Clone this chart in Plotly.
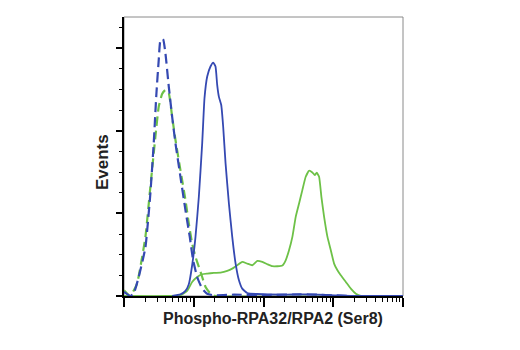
import plotly.graph_objects as go
import math

# Intensity in log decades (0..4), events in arbitrary units
blue_dash_x = [0, 0.09, 0.139, 0.211, 0.307, 0.378, 0.426, 0.465, 0.498, 0.522, 0.56, 0.594, 0.642, 0.69, 0.738, 0.809, 0.881, 0.943, 0.991, 1.049, 1.121, 1.193, 1.288, 1.576, 2.055, 2.534, 2.773, 3.012, 3.252, 3.97]
blue_dash_y = [0.05, 0, 0.03, 0.23, 0.586, 1.24, 1.846, 2.453, 2.857, 3.09, 3.107, 2.937, 2.533, 2.17, 1.846, 1.442, 1.038, 0.715, 0.432, 0.23, 0.089, 0.028, 0.008, 0.016, 0.012, 0.02, 0.016, 0.008, 0, 0]

green_dash_x = [0, 0.09, 0.187, 0.307, 0.378, 0.45, 0.498, 0.546, 0.594, 0.642, 0.69, 0.738, 0.809, 0.881, 0.929, 0.977, 1.025, 1.073, 1.121, 1.169, 1.24, 1.312, 3.97]
green_dash_y = [0.07, 0, 0.15, 0.715, 1.321, 1.927, 2.291, 2.444, 2.493, 2.453, 2.17, 1.887, 1.523, 1.16, 0.877, 0.634, 0.473, 0.352, 0.23, 0.109, 0.028, 0, 0]

blue_solid_x = [0.69, 0.809, 0.881, 0.929, 0.977, 1.025, 1.073, 1.121, 1.154, 1.193, 1.24, 1.279, 1.312, 1.336, 1.36, 1.394, 1.422, 1.456, 1.504, 1.552, 1.6, 1.648, 1.695, 1.767, 1.911, 2.294, 2.534, 2.773, 3.012, 3.252, 4.0]
blue_solid_y = [0, 0.02, 0.061, 0.141, 0.372, 0.715, 1.2, 1.846, 2.392, 2.655, 2.776, 2.824, 2.776, 2.554, 2.412, 2.311, 2.048, 1.604, 1.119, 0.715, 0.392, 0.19, 0.089, 0.036, 0.024, 0.016, 0.02, 0.016, 0.008, 0, 0]

green_solid_x = [0, 0.618, 0.809, 0.905, 0.977, 1.049, 1.121, 1.193, 1.288, 1.384, 1.48, 1.552, 1.624, 1.695, 1.767, 1.839, 1.911, 1.983, 2.055, 2.126, 2.198, 2.27, 2.318, 2.366, 2.414, 2.462, 2.51, 2.557, 2.605, 2.653, 2.701, 2.735, 2.763, 2.797, 2.83, 2.869, 2.917, 2.965, 3.012, 3.06, 3.108, 3.18, 3.252, 3.324, 3.396, 4.0]
green_solid_y = [0, 0, 0.008, 0.061, 0.17, 0.23, 0.263, 0.271, 0.279, 0.283, 0.303, 0.331, 0.372, 0.412, 0.392, 0.372, 0.424, 0.412, 0.384, 0.36, 0.36, 0.368, 0.432, 0.554, 0.715, 0.958, 1.119, 1.281, 1.442, 1.515, 1.495, 1.463, 1.491, 1.442, 1.2, 0.958, 0.715, 0.554, 0.392, 0.311, 0.251, 0.17, 0.089, 0.028, 0, 0]

x_major = [0, 1, 2, 3, 4]
y_major = [0, 1, 2, 3]
x_title = "Phospho-RPA32/RPA2 (Ser8)"
y_title = "Events"

BLUE = "#3549b2"
GREEN = "#6dc147"
FONT = "Liberation Sans, Arial, sans-serif"

x_minor = [d + math.log10(k) for d in range(4) for k in range(2, 10)]
y_minor = [i * 0.25 for i in range(14) if i % 4 != 0]

fig = go.Figure()
fig.add_trace(go.Scatter(x=green_solid_x, y=green_solid_y, mode="lines",
                         line=dict(color=GREEN, width=1.8, shape="spline", smoothing=0.4)))
fig.add_trace(go.Scatter(x=green_dash_x, y=green_dash_y, mode="lines",
                         line=dict(color=GREEN, width=2.2, dash="9px,5px", shape="spline", smoothing=0.4)))
fig.add_trace(go.Scatter(x=blue_solid_x, y=blue_solid_y, mode="lines",
                         line=dict(color=BLUE, width=1.8, shape="spline", smoothing=0.4)))
fig.add_trace(go.Scatter(x=blue_dash_x, y=blue_dash_y, mode="lines",
                         line=dict(color=BLUE, width=2.2, dash="10px,5px", shape="spline", smoothing=0.4)))

fig.add_shape(type="rect", xref="paper", yref="paper", x0=0, y0=0, x1=1, y1=1,
              line=dict(color="#8a8a8a", width=1), layer="below")

fig.add_annotation(text="<b>%s</b>" % x_title, xref="paper", yref="paper",
                   x=0.535, y=0, yshift=-22, xanchor="center", yanchor="middle",
                   showarrow=False, font=dict(size=16, family=FONT, color="#222222"))
fig.add_annotation(text="<b>%s</b>" % y_title, xref="paper", yref="paper",
                   x=0, xshift=-22, y=0.48, xanchor="center", yanchor="middle",
                   textangle=-90, showarrow=False,
                   font=dict(size=17, family=FONT, color="#222222"))

fig.update_layout(
    width=520, height=350,
    margin=dict(l=124, r=117, t=17, b=54),
    paper_bgcolor="white", plot_bgcolor="white",
    showlegend=False,
    font=dict(family=FONT, color="#222222"),
    xaxis=dict(range=[0, 4], showgrid=False, zeroline=False,
               showline=True, linecolor="black", linewidth=1.5,
               tickmode="array", tickvals=x_major, showticklabels=False,
               ticks="outside", ticklen=9, tickwidth=1.5, tickcolor="black",
               minor=dict(tickmode="array", tickvals=x_minor, ticks="outside",
                          ticklen=4, tickwidth=1, tickcolor="black")),
    yaxis=dict(range=[0, 3.375], showgrid=False, zeroline=False,
               showline=True, linecolor="black", linewidth=1.5,
               tickmode="array", tickvals=y_major, showticklabels=False,
               ticks="outside", ticklen=6, tickwidth=2, tickcolor="black",
               minor=dict(tickmode="array", tickvals=y_minor, ticks="outside",
                          ticklen=3, tickwidth=1, tickcolor="black")),
)

fig.write_html("out.html")
